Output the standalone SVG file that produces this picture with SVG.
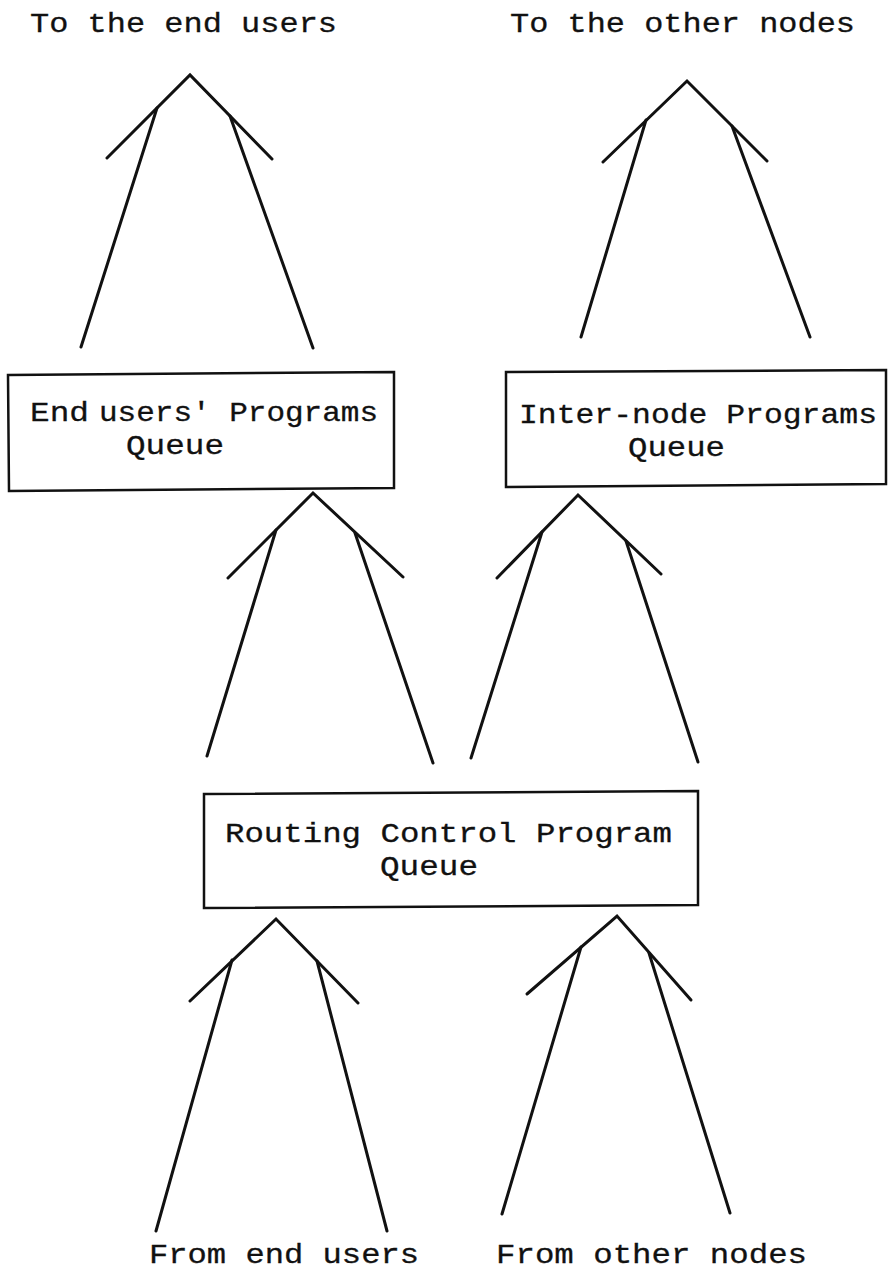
<svg xmlns="http://www.w3.org/2000/svg" width="888" height="1273" viewBox="0 0 888 1273">
<style>
  .bg { fill: #ffffff; }
  .box { fill: none; stroke: #111; stroke-width: 2.5; stroke-linejoin: miter; }
  .ln { fill: none; stroke: #111; stroke-width: 3; stroke-linecap: round; stroke-linejoin: miter; }
  .t { font-family: "Liberation Mono", "DejaVu Sans Mono", monospace; font-size: 28px; fill: #111; stroke: #111; stroke-width: 0.3; }
</style>
<rect class="bg" x="0" y="0" width="888" height="1273"/>

<g id="label-to-end-users">
  <text class="t" x="30" y="32" textLength="307" lengthAdjust="spacingAndGlyphs">To the end users</text>
</g>
<g id="label-to-other-nodes">
  <text class="t" x="510" y="32" textLength="345" lengthAdjust="spacingAndGlyphs">To the other nodes</text>
</g>

<g id="node-end-users-queue">
  <polygon class="box" points="8,375 394,372 394,488 9,491"/>
  <text class="t" x="30" y="421" textLength="59" lengthAdjust="spacingAndGlyphs">End</text>
  <text class="t" x="99" y="421" textLength="279" lengthAdjust="spacingAndGlyphs">users' Programs</text>
  <text class="t" x="126" y="454" textLength="98" lengthAdjust="spacingAndGlyphs">Queue</text>
</g>

<g id="node-inter-node-queue">
  <polygon class="box" points="506,372 886,370 886,484 506,487"/>
  <text class="t" x="519" y="423" textLength="358" lengthAdjust="spacingAndGlyphs">Inter-node Programs</text>
  <text class="t" x="628" y="456" textLength="97" lengthAdjust="spacingAndGlyphs">Queue</text>
</g>

<g id="node-routing-control-queue">
  <polygon class="box" points="204,794 698,791 698,905 204,908"/>
  <text class="t" x="225" y="842" textLength="447" lengthAdjust="spacingAndGlyphs">Routing Control Program</text>
  <text class="t" x="380" y="875" textLength="98" lengthAdjust="spacingAndGlyphs">Queue</text>
</g>

<g id="label-from-end-users">
  <text class="t" x="149" y="1263" textLength="270" lengthAdjust="spacingAndGlyphs">From end users</text>
</g>
<g id="label-from-other-nodes">
  <text class="t" x="496" y="1263" textLength="311" lengthAdjust="spacingAndGlyphs">From other nodes</text>
</g>

<g id="connectors">
  <!-- top-left: to end users -->
  <polyline class="ln" points="107,158 190,75 272,159"/>
  <line class="ln" x1="157" y1="108" x2="81" y2="347"/>
  <line class="ln" x1="230" y1="116" x2="313" y2="348"/>
  <!-- top-right: to other nodes -->
  <polyline class="ln" points="603,162 687,81 767,161"/>
  <line class="ln" x1="646" y1="120" x2="581" y2="337"/>
  <line class="ln" x1="732" y1="126" x2="810" y2="337"/>
  <!-- middle-left -->
  <polyline class="ln" points="228,578 313,493 403,577"/>
  <line class="ln" x1="276" y1="530" x2="207" y2="756"/>
  <line class="ln" x1="355" y1="533" x2="433" y2="763"/>
  <!-- middle-right -->
  <polyline class="ln" points="497,578 578,495 661,574"/>
  <line class="ln" x1="542" y1="532" x2="471" y2="758"/>
  <line class="ln" x1="626" y1="541" x2="698" y2="762"/>
  <!-- bottom-left: from end users -->
  <polyline class="ln" points="190,1001 276,919 358,1003"/>
  <line class="ln" x1="232" y1="960" x2="156" y2="1231"/>
  <line class="ln" x1="317" y1="961" x2="387" y2="1231"/>
  <!-- bottom-right: from other nodes -->
  <polyline class="ln" points="527,994 617,916 691,1000"/>
  <line class="ln" x1="581" y1="947" x2="502" y2="1214"/>
  <line class="ln" x1="649" y1="953" x2="730" y2="1213"/>
</g>
</svg>
